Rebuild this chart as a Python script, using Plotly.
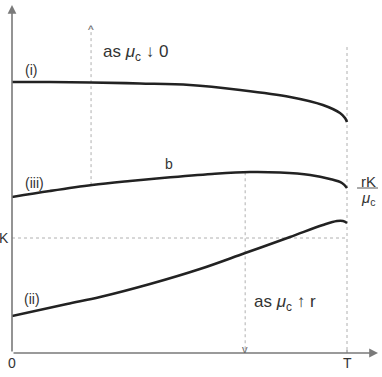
import plotly.graph_objects as go

# ---- data (time t in [0, T], T = 1) ----
T = 1.0
K_level = 115
mu_small_t = 0.236   # "as mu_c -> 0" marker position
mu_large_t = 0.696   # "as mu_c -> r" marker position

curve_i_t = [0, 0.113, 0.236, 0.382, 0.531, 0.681, 0.830, 0.928, 0.979, 0.994, 1.0]
curve_i_y = [271, 271, 270.5, 269.5, 268, 263, 256, 248, 240, 235, 231]

curve_iii_t = [0, 0.113, 0.239, 0.352, 0.448, 0.597, 0.710, 0.800, 0.890, 0.949, 0.985, 1.0]
curve_iii_y = [156, 162, 168, 172, 175, 179, 181, 180.5, 178, 174, 170, 165]

curve_ii_t = [0, 0.164, 0.263, 0.412, 0.561, 0.696, 0.830, 0.928, 0.970, 0.988, 1.0]
curve_ii_y = [37, 49, 56, 69, 84, 100, 116, 128, 132, 132, 130]

x_tick_labels = ["0", "T"]

# ---- figure ----
FONT = "Liberation Sans, Arial, sans-serif"
TXT = "#333333"
AX = "#7a7a7a"
DOT = "#b0b0b0"
CURVE = "#222222"

fig = go.Figure()

def interp(ts, ys, t):
    for i in range(len(ts) - 1):
        if ts[i] <= t <= ts[i + 1]:
            f = (t - ts[i]) / (ts[i + 1] - ts[i])
            return ys[i] + f * (ys[i + 1] - ys[i])
    return ys[-1]

# dotted guide lines
y_small = interp(curve_iii_t, curve_iii_y, mu_small_t)
y_large = interp(curve_iii_t, curve_iii_y, mu_large_t)
guides = [
    ([mu_small_t, mu_small_t], [y_small, 325]),
    ([mu_large_t, mu_large_t], [y_large, 0]),
    ([T, T], [306, 0]),
    ([0, T], [K_level, K_level]),
]
for gx, gy in guides:
    fig.add_trace(go.Scatter(x=gx, y=gy, mode="lines",
                             line=dict(color=DOT, width=1, dash="dot"),
                             hoverinfo="skip", showlegend=False))

for ts, ys in [(curve_i_t, curve_i_y), (curve_iii_t, curve_iii_y), (curve_ii_t, curve_ii_y)]:
    fig.add_trace(go.Scatter(x=ts, y=ys, mode="lines",
                             line=dict(color=CURVE, width=2.6, shape="spline", smoothing=1.0),
                             hoverinfo="skip", showlegend=False))

ann = []
# axes with arrows
ann.append(dict(x=0, y=348, ax=0, ay=0, xref="x", yref="y", axref="x", ayref="y",
                showarrow=True, arrowhead=2, arrowsize=1.1, arrowwidth=1.6, arrowcolor=AX, text=""))
ann.append(dict(x=1.0925, y=0, ax=0, ay=0, xref="x", yref="y", axref="x", ayref="y",
                showarrow=True, arrowhead=2, arrowsize=1.1, arrowwidth=1.6, arrowcolor=AX, text=""))

def txt(x, y, s, size=14, xanchor="center", color=TXT, xref="x", yref="y"):
    ann.append(dict(x=x, y=y, xref=xref, yref=yref, text=s, showarrow=False,
                    xanchor=xanchor, yanchor="middle",
                    font=dict(family=FONT, size=size, color=color)))

# tick labels (below the plot area -> paper coordinates)
txt(0.0, -0.03, x_tick_labels[0], xref="paper", yref="paper")
txt(T / 1.0925, -0.03, x_tick_labels[1], xref="paper", yref="paper")
txt(-0.003, K_level, "K", xanchor="right", xref="paper")
txt(0.057, 283, "(i)")
txt(0.067, 170, "(iii)")
txt(0.060, 54, "(ii)")
txt(0.469, 189, "b")
txt(0.265, 300, "as <i>μ</i><sub>c</sub> ↓ 0", size=17, xanchor="left")
txt(0.716, 50, "as <i>μ</i><sub>c</sub> ↑ r", size=17, xanchor="left")
txt(mu_small_t, 323, "^", size=12, color="#666666")
txt(mu_large_t, 4, "v", size=11, color="#666666")
txt(1.064, 172, "rK", size=15)
txt(1.064, 155, "<i>μ</i><sub>c</sub>", size=15)
fig.update_layout(annotations=ann)

# fraction bar and T tick
fig.add_shape(type="line", x0=1.030, x1=1.094, y0=165, y1=165, xref="x", yref="y",
              line=dict(color="#555555", width=1))
fig.add_shape(type="line", x0=T, x1=T, y0=-3, y1=3, xref="x", yref="y",
              line=dict(color=AX, width=1))

fig.update_xaxes(range=[0, 1.0925], visible=False, fixedrange=True)
fig.update_yaxes(range=[0, 348], visible=False, fixedrange=True)
fig.update_layout(width=382, height=377, margin=dict(l=12, r=4, t=5, b=24),
                  paper_bgcolor="white", plot_bgcolor="white")

fig.write_html("out.html")
